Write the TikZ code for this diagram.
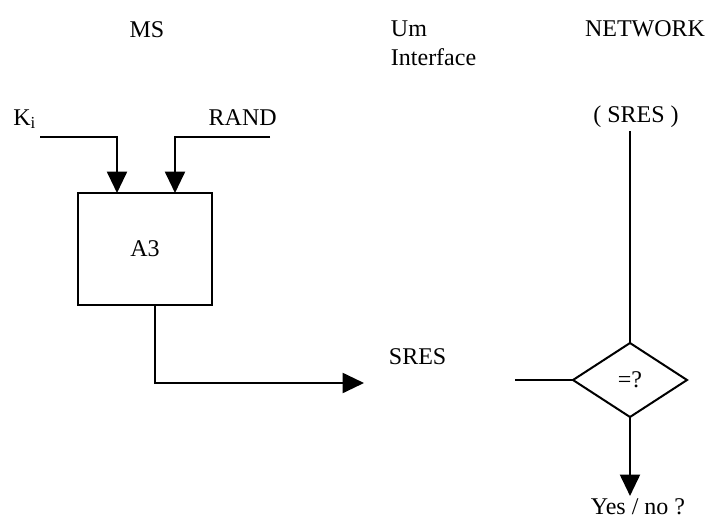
\documentclass[tikz,border=0pt]{standalone}
\usepackage{fontspec}
\setmainfont{Liberation Serif}
\usetikzlibrary{arrows.meta,shapes.geometric}
\tikzset{
  lbl/.style={font=\fontsize{18}{22}\selectfont, inner sep=2pt},
  arr/.style={-{Triangle[width=15pt,length=16pt]}},
  wire/.style={line width=1.5pt},
  blockbox/.style={draw, line width=1.5pt, rectangle, minimum width=100.5pt, minimum height=84pt, outer sep=0pt},
  cmpbox/.style={draw, line width=1.5pt, diamond, minimum width=85.5pt, minimum height=55.5pt, inner sep=0pt, outer sep=0pt}
}
\begin{document}
\begin{tikzpicture}[x=0.75pt,y=-0.75pt]
\useasboundingbox (0,0) rectangle (718,518);
% headings
\node[lbl] (ms) at (147,30) {MS};
\node[lbl, anchor=west, align=left] (um) at (388,43) {Um\\Interface};
\node[lbl] (net) at (645,29) {NETWORK};
% inputs
\node[lbl, anchor=base west, inner sep=0pt] (ki) at (13,125) {K\textsubscript{i}};
\node[lbl, anchor=base east, inner sep=0pt] (rand) at (277,125) {RAND};
\coordinate (kiL) at (40,137);
\coordinate (kiC) at (117,137);
\coordinate (randR) at (270,137);
\coordinate (randC) at (175,137);
% A3 block
\node[blockbox, lbl] (a3) at (145,249) {A3};
\draw[wire, arr] (kiL) -- (kiC) -- (kiC |- a3.north);
\draw[wire, arr] (randR) -- (randC) -- (randC |- a3.north);
% output
\coordinate (outC) at (155,383);
\coordinate (outE) at (364,383);
\draw[wire, arr] (a3.south -| outC) -- (outC) -- (outE);
\node[lbl, anchor=west] (sres) at (386,357) {SRES};
% network side
\node[lbl] (nsres) at (636,117) {( SRES )};
\node[cmpbox, lbl] (dia) at (630,380) {=?};
\draw[wire] (dia.north |- nsres.south) -- (dia.north);
\coordinate (cmpL) at (515,380);
\draw[wire] (cmpL) -- (dia.west);
\node[lbl] (yn) at (638,507) {Yes / no ?};
\draw[wire, arr] (dia.south) -- (dia.south |- yn.north);
\end{tikzpicture}
\end{document}
